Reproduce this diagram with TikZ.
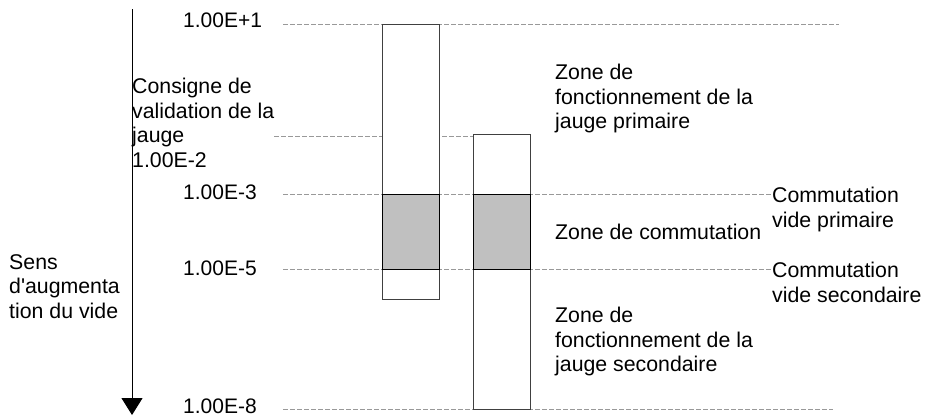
\documentclass[tikz,border=0pt]{standalone}
\usepackage{fontspec}
\setmainfont{Liberation Sans}
\usetikzlibrary{arrows.meta}
\definecolor{dashgray}{HTML}{999999}
\definecolor{zonegray}{HTML}{C0C0C0}
\definecolor{boxline}{HTML}{404040}
\tikzset{
  lbl/.style={inner sep=0pt, anchor=north west, align=left,
    font=\fontsize{21.3pt}{24.5pt}\selectfont},
  val/.style={inner sep=0pt, anchor=base west,
    font=\fontsize{21pt}{24.5pt}\selectfont},
  guide/.style={draw=dashgray, line width=0.9pt, dash pattern=on 5pt off 2pt},
  gaugebox/.style={draw=boxline, line width=1pt, fill=white},
  switchzone/.style={draw=black, line width=1pt, fill=zonegray},
}
\begin{document}
\begin{tikzpicture}[x=1pt,y=-1pt]
\useasboundingbox[fill=white] (0,0) rectangle (929,416);

% labels
\node[lbl] (consigne) at (132,78) {Consigne de\\validation de la\\jauge\\1.00E-2};
\node[lbl] (sens) at (9,254) {Sens\\d\textquotesingle augmenta\\tion du vide};
\node[lbl] (zp) at (555,64) {Zone de\\fonctionnement de la\\jauge primaire};
\node[lbl] (zc) at (555,224) {Zone de commutation};
\node[lbl] (cp) at (772,187) {Commutation\\vide primaire};
\node[lbl] (cs) at (772,262) {Commutation\\vide secondaire};
\node[lbl] (zs) at (555,307) {Zone de\\fonctionnement de la\\jauge secondaire};

% values
\node[val] (v1) at (183,27) {1.00E+1};
\node[val] (v3) at (183,199) {1.00E-3};
\node[val] (v5) at (183,275) {1.00E-5};
\node[val] (v8) at (183,413) {1.00E-8};

% guide lines
\coordinate (g1a) at (283,24);  \coordinate (g1b) at (839,24);
\coordinate (g2a) at (274,136); \coordinate (g2b) at (473,136);
\coordinate (g3a) at (283,194);
\coordinate (g4a) at (283,269);
\coordinate (g5a) at (283,409); \coordinate (g5b) at (833,409);
\draw[guide] (g1a) -- (g1b);
\draw[guide] (g2a) -- (g2b);
\draw[guide] (g3a) -- (g3a -| cp.west);
\draw[guide] (g4a) -- (g4a -| cs.west);
\draw[guide] (g5a) -- (g5b);

% boxes
\node[gaugebox, minimum width=57pt, minimum height=275pt, inner sep=0pt, anchor=north west] (b1) at (382,24) {};
\node[gaugebox, minimum width=57pt, minimum height=275pt, inner sep=0pt, anchor=north west] (b2) at (473,134) {};
\node[switchzone, minimum width=57pt, minimum height=75pt, inner sep=0pt, anchor=north west] (s1) at (382,194) {};
\node[switchzone, minimum width=57pt, minimum height=75pt, inner sep=0pt, anchor=north west] (s2) at (473,194) {};

% axis
\coordinate (axtop) at (132,9);
\coordinate (axbot) at (132,415);
\draw[line width=1pt, -{Triangle[length=17pt,width=21pt]}] (axtop) -- (axbot);
\end{tikzpicture}
\end{document}
